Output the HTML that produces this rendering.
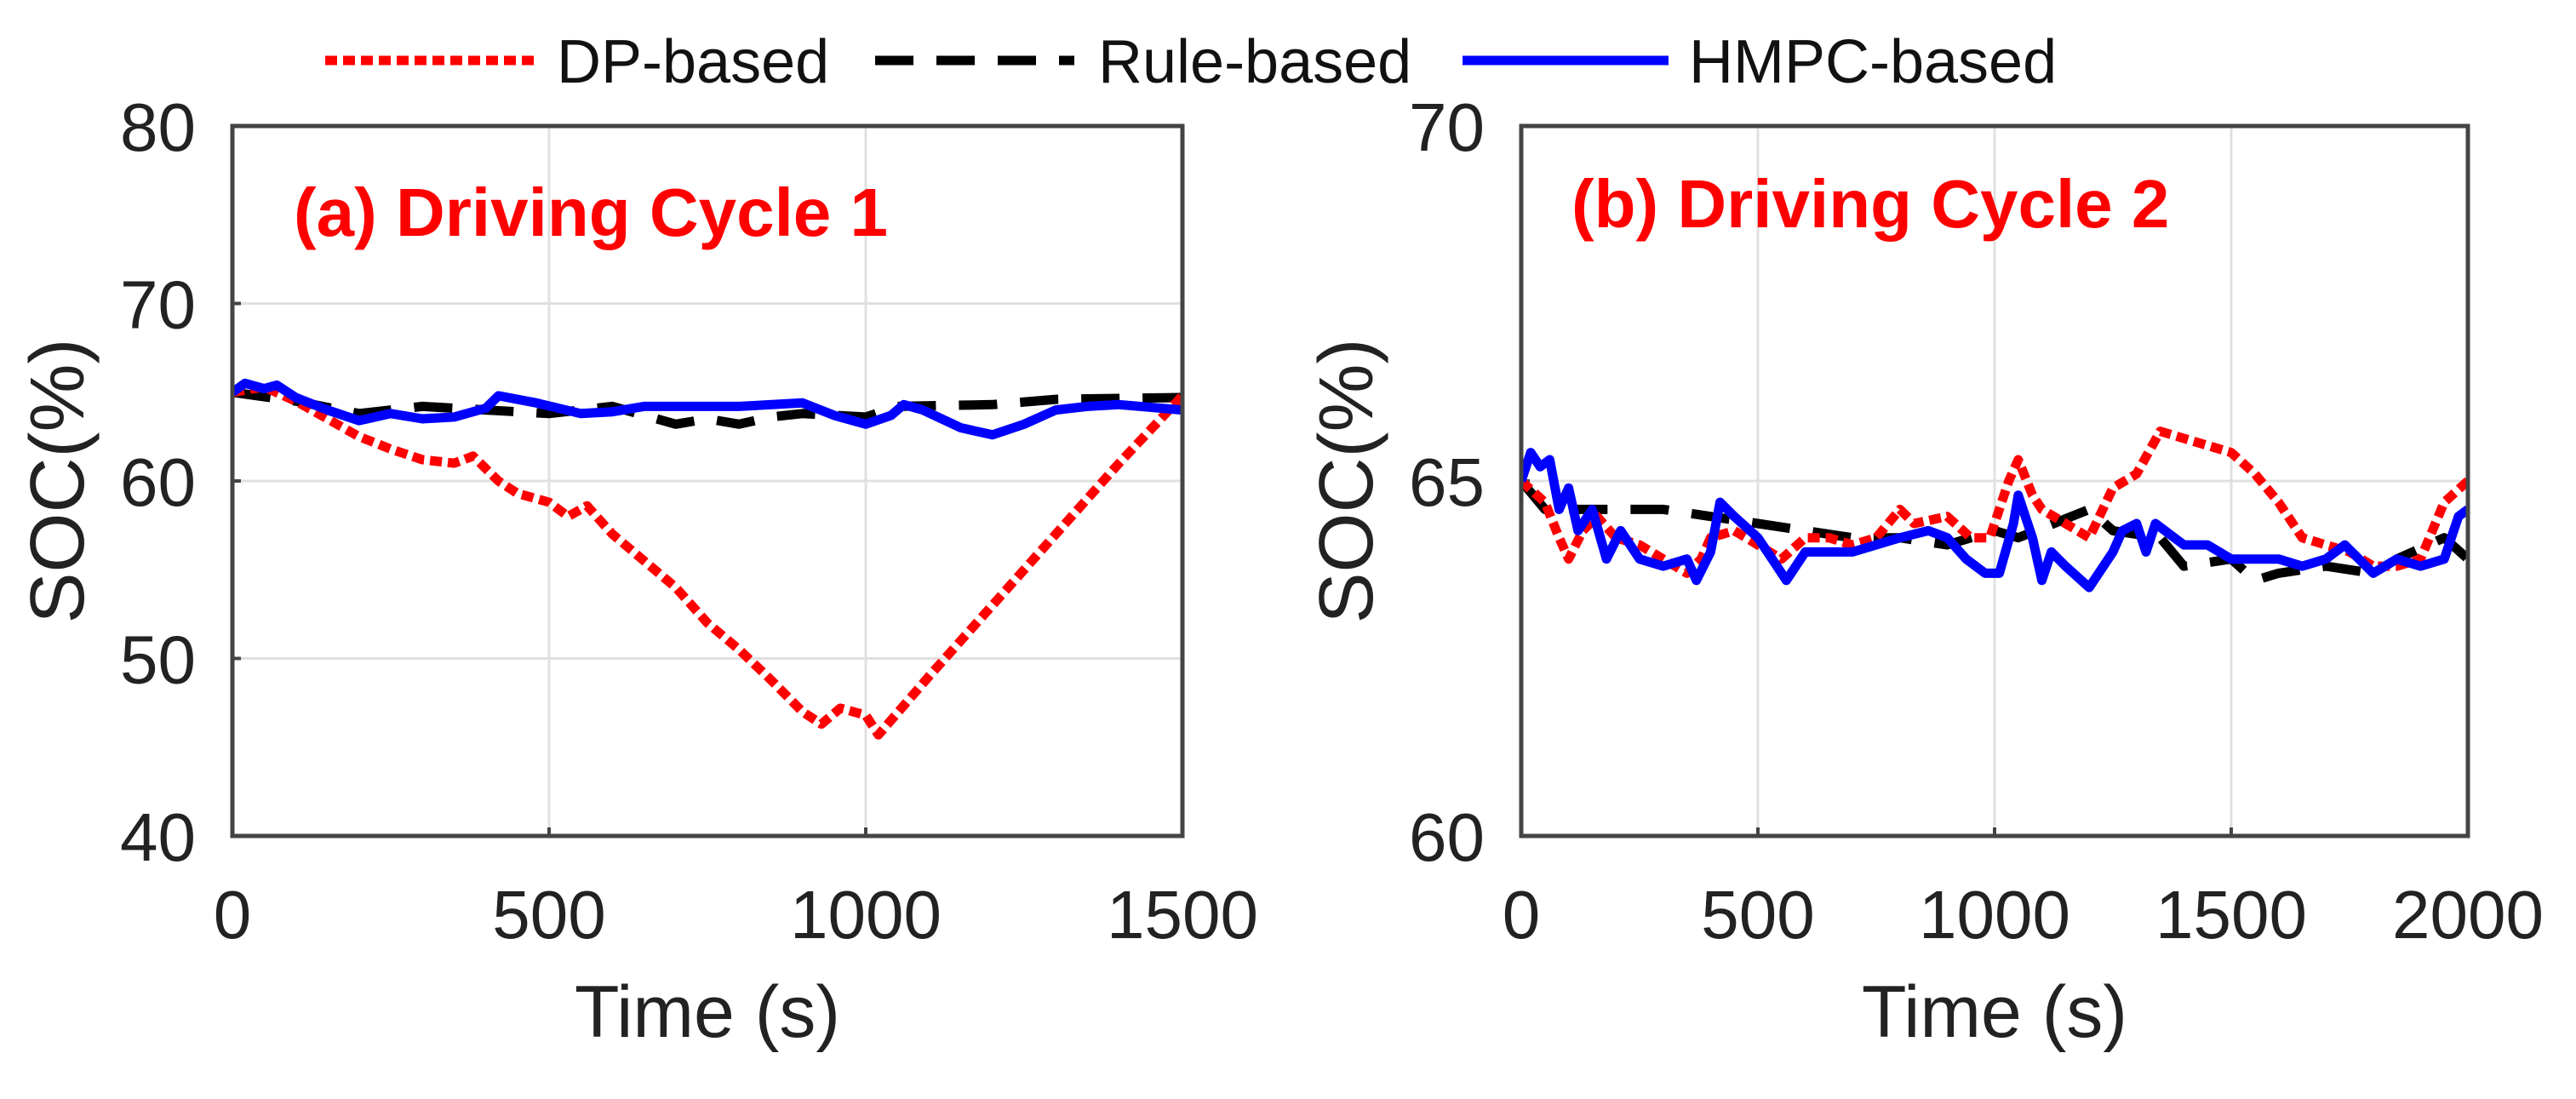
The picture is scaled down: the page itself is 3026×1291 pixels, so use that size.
<!DOCTYPE html>
<html><head><meta charset="utf-8"><style>
html,body{margin:0;padding:0;background:#fff;}
svg{display:block;font-family:"Liberation Sans",Arial,sans-serif;}
</style></head><body>
<svg id="fig" width="3026" height="1291" viewBox="0 0 3026 1291">
<g>
<line x1="382" y1="71" x2="629" y2="71" stroke="#f00" stroke-width="11" stroke-dasharray="14 7"/>
<text x="654" y="97" font-size="72" fill="#111">DP-based</text>
<line x1="1028" y1="71" x2="1262" y2="71" stroke="#000" stroke-width="11" stroke-dasharray="45 27"/>
<text x="1290" y="97" font-size="72" fill="#111">Rule-based</text>
<line x1="1718" y1="71" x2="1960" y2="71" stroke="#00f" stroke-width="11"/>
<text x="1984" y="97" font-size="72" fill="#111">HMPC-based</text>
</g>
</svg>
<script>
// Panel (a) data
const aDpT=[0,50,100,150,200,250,300,350,380,420,450,500,530,560,600,650,700,750,800,850,900,930,960,1000,1020,1100,1150,1200,1300,1400,1500];
const aDpV=[65,65.3,64.5,63.5,62.5,61.8,61.2,61,61.4,60,59.3,58.8,58,58.6,57,55.5,54,52,50.5,48.8,47,46.3,47.2,46.8,45.7,49,51,53,57,61,64.8];
const aRuleT=[0,100,200,300,400,500,600,650,700,750,800,850,900,1000,1050,1200,1300,1500];
const aRuleV=[65,64.5,63.8,64.2,64,63.8,64.2,63.7,63.2,63.5,63.2,63.6,63.8,63.6,64.2,64.3,64.6,64.7];
const aHmT=[0,20,50,70,100,150,200,250,300,350,400,420,480,550,600,650,800,900,950,1000,1040,1060,1090,1150,1200,1250,1300,1350,1400,1500];
const aHmV=[65,65.5,65.2,65.4,64.7,64,63.4,63.8,63.5,63.6,64.1,64.8,64.4,63.8,63.9,64.2,64.2,64.4,63.7,63.2,63.7,64.3,64,63,62.6,63.2,64,64.2,64.3,64];
const aXTicks=[0,500,1000,1500];
const aYTicks=[40,50,60,70,80];
// Panel (b) data
const bHmT=[0,20,40,60,80,100,120,150,180,210,250,300,350,370,400,420,450,500,530,560,600,700,800,860,900,940,980,1010,1040,1050,1080,1100,1120,1150,1200,1250,1270,1300,1320,1340,1400,1450,1500,1600,1650,1700,1740,1800,1850,1900,1950,1980,2000];
const bHmV=[65,65.4,65.2,65.3,64.6,64.9,64.3,64.6,63.9,64.3,63.9,63.8,63.9,63.6,64,64.7,64.5,64.2,63.9,63.6,64,64,64.2,64.3,64.2,63.9,63.7,63.7,64.4,64.8,64.2,63.6,64,63.8,63.5,64,64.3,64.4,64,64.4,64.1,64.1,63.9,63.9,63.8,63.9,64.1,63.7,63.9,63.8,63.9,64.5,64.6];
const bDpT=[0,50,80,100,130,160,200,250,300,350,380,400,450,500,550,600,650,700,750,800,830,900,950,990,1030,1050,1080,1100,1150,1200,1250,1300,1350,1400,1450,1500,1550,1600,1650,1700,1750,1800,1850,1900,1950,2000];
const bDpV=[65,64.7,64.2,63.9,64.3,64.5,64.2,64.1,63.9,63.7,63.9,64.2,64.3,64.1,63.9,64.2,64.2,64.1,64.2,64.6,64.4,64.5,64.2,64.2,65,65.3,64.8,64.6,64.4,64.2,64.9,65.1,65.7,65.6,65.5,65.4,65.1,64.7,64.2,64.1,64,63.8,63.8,63.9,64.7,65];
const bRuleT=[0,50,150,250,300,400,500,600,700,800,900,1000,1050,1200,1250,1350,1400,1500,1550,1600,1700,1800,1850,1950,2000];
const bRuleV=[65,64.6,64.6,64.6,64.6,64.5,64.4,64.3,64.2,64.2,64.1,64.3,64.2,64.6,64.3,64.2,63.8,63.9,63.6,63.7,63.8,63.7,63.9,64.2,63.9];
const bXTicks=[0,500,1000,1500,2000];
const bYTicks=[60,65,70];

const NS='http://www.w3.org/2000/svg';
const svg=document.getElementById('fig');
function mk(tag,attrs,parent){const e=document.createElementNS(NS,tag);for(const k in attrs)e.setAttribute(k,attrs[k]);(parent||svg).appendChild(e);return e;}

function panel(id,L,R,T,B,xmax,ymin,ymax,xt,yt,title,tx,ty,series){
  const g=mk('g',{});
  
  
  const sx=v=>L+(v/xmax)*(R-L);
  const sy=v=>B-(v-ymin)/(ymax-ymin)*(B-T);
  xt.forEach(v=>{if(v>0&&v<xmax){const l=mk('line',{x1:sx(v),x2:sx(v),y1:T,y2:B,stroke:'#e0e0e0','stroke-width':3},g);
    
    
    const k=mk('line',{x1:sx(v),x2:sx(v),y1:B,y2:B-10,stroke:'#444','stroke-width':4},g);
    
    }});
  yt.forEach(v=>{if(v>ymin&&v<ymax){const l=mk('line',{x1:L,x2:R,y1:sy(v),y2:sy(v),stroke:'#e0e0e0','stroke-width':3},g);
    
    
    const k=mk('line',{x1:L,x2:L+10,y1:sy(v),y2:sy(v),stroke:'#444','stroke-width':4},g);
    
    }});
  const clip=mk('clipPath',{id:id+'-clip'},g);mk('rect',{x:L,y:T-6,width:R-L,height:B-T+12},clip);
  series.forEach(s=>{
    const d=s.t.map((t,i)=>(i?'L':'M')+sx(t).toFixed(1)+' '+sy(s.v[i]).toFixed(1)).join(' ');
    const p=mk('path',{d:d,fill:'none',stroke:s.c,'stroke-width':11,'stroke-dasharray':s.dash||'none','stroke-linejoin':'round','clip-path':'url(#'+id+'-clip)'},g);
    
    
  });
  const f=mk('rect',{x:L,y:T,width:R-L,height:B-T,fill:'none',stroke:'#444','stroke-width':5},g);
  
  
  xt.forEach(v=>{const t=mk('text',{x:sx(v),y:B+120,'font-size':80,'text-anchor':'middle',fill:'#222'},g);t.textContent=v;
    
    });
  yt.forEach(v=>{const t=mk('text',{x:L-43,y:sy(v)+29,'font-size':80,'text-anchor':'end',fill:'#222'},g);t.textContent=v;
    
    });
  const xl=mk('text',{x:(L+R)/2,y:1218,'font-size':86,'text-anchor':'middle',fill:'#222'},g);xl.textContent='Time (s)';
  
  
  const yl=mk('text',{x:0,y:0,'font-size':90,'text-anchor':'middle',fill:'#222',transform:'translate('+(L-175)+','+((T+B)/2)+') rotate(-90)'},g);yl.textContent='SOC(%)';
  
  
  const ti=mk('text',{x:tx,y:ty,'font-size':80,'font-weight':'bold',fill:'#f00'},g);ti.textContent=title;
  
  
}
panel('panel-a',273,1389,148,982,1500,40,80,aXTicks,aYTicks,'(a) Driving Cycle 1',345,277,[
  {t:aRuleT,v:aRuleV,c:'#000',dash:'45 27',name:'rule-based-line-a'},
  {t:aDpT,v:aDpV,c:'#f00',dash:'14 7',name:'dp-based-line-a'},
  {t:aHmT,v:aHmV,c:'#00f',name:'hmpc-based-line-a'}]);
panel('panel-b',1787,2899,148,982,2000,60,70,bXTicks,bYTicks,'(b) Driving Cycle 2',1846,267,[
  {t:bRuleT,v:bRuleV,c:'#000',dash:'45 27',name:'rule-based-line-b'},
  {t:bDpT,v:bDpV,c:'#f00',dash:'14 7',name:'dp-based-line-b'},
  {t:bHmT,v:bHmV,c:'#00f',name:'hmpc-based-line-b'}]);
</script>
</body></html>
